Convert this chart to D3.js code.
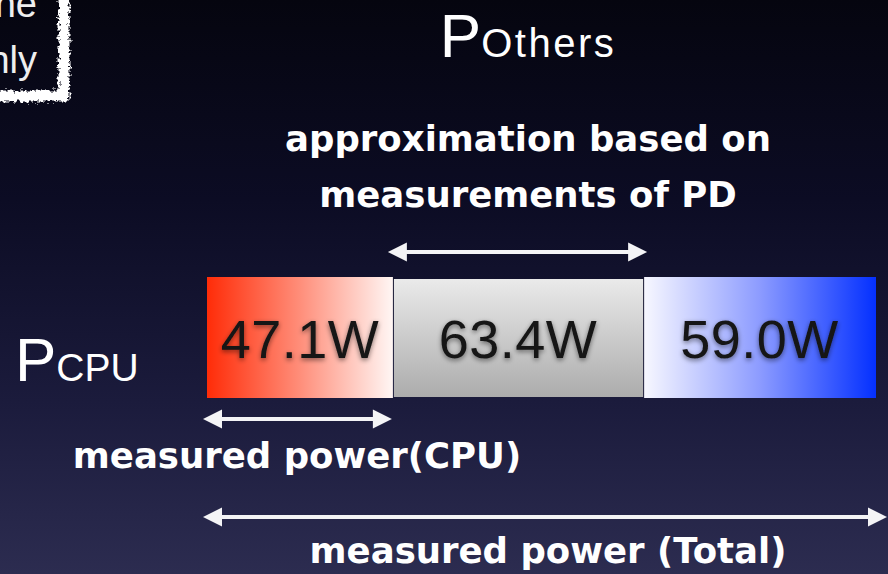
<!DOCTYPE html>
<html>
<head>
<meta charset="utf-8">
<script src="https://cdn.jsdelivr.net/npm/d3@7"></script>
<style>
  html, body { margin: 0; padding: 0; background: #0a0a1c; overflow: hidden; }
  svg { display: block; }
</style>
</head>
<body>
<svg id="chart" width="888" height="574"></svg>
<script>
// Power breakdown: measured CPU power, PD approximation, remainder of the total
const categories = ["CPU", "PD", "Others"];
const values = [47.1, 63.4, 59.0];
const unit = "W";
const segmentLabels = values.map(v => v.toFixed(1) + unit);

const W = 888, H = 574;
const svg = d3.select("#chart");
const defs = svg.append("defs");

// ---- gradients ----
function linearGradient(id, x2, y2, stops) {
  const g = defs.append("linearGradient").attr("id", id)
    .attr("x1", 0).attr("y1", 0).attr("x2", x2).attr("y2", y2);
  stops.forEach(([o, c]) => g.append("stop").attr("offset", o).attr("stop-color", c));
}
linearGradient("bg", 0, 1, [[0, "#05050f"], [0.35, "#0c0c24"], [0.7, "#1b1b3c"], [1, "#2c2c50"]]);
const fills = { CPU: "grad-cpu", PD: "grad-pd", Others: "grad-others" };
linearGradient("grad-cpu", 1, 0, [[0, "#ff2c08"], [0.5, "#ff8e7a"], [1, "#fff6f4"]]);
linearGradient("grad-pd", 0, 1, [[0, "#eaeaea"], [1, "#acacac"]]);
linearGradient("grad-others", 1, 0, [[0, "#f7f7ff"], [0.5, "#8c9bff"], [1, "#0430ff"]]);

// soft dark shadow behind the segment values
const sh = defs.append("filter").attr("id", "shadow")
  .attr("x", "-20%").attr("y", "-30%").attr("width", "140%").attr("height", "160%");
sh.append("feGaussianBlur").attr("in", "SourceAlpha").attr("stdDeviation", 2.5).attr("result", "b");
sh.append("feOffset").attr("in", "b").attr("dx", 0).attr("dy", 2).attr("result", "o");
sh.append("feComponentTransfer").attr("in", "o").attr("result", "s")
  .append("feFuncA").attr("type", "linear").attr("slope", 0.5);
const shm = sh.append("feMerge");
shm.append("feMergeNode").attr("in", "s");
shm.append("feMergeNode").attr("in", "SourceGraphic");

// chalky frame edge
const rough = defs.append("filter").attr("id", "rough")
  .attr("x", "-20%").attr("y", "-20%").attr("width", "140%").attr("height", "140%");
rough.append("feTurbulence").attr("type", "fractalNoise").attr("baseFrequency", 0.3)
  .attr("numOctaves", 3).attr("seed", 5).attr("result", "n");
rough.append("feDisplacementMap").attr("in", "SourceGraphic").attr("in2", "n")
  .attr("scale", 9).attr("xChannelSelector", "R").attr("yChannelSelector", "G");

// ---- background ----
svg.append("rect").attr("width", W).attr("height", H).attr("fill", "url(#bg)");

// note box in the corner
const note = svg.append("g");
note.append("path")
  .attr("d", "M-12,96 L64,96 L64,-12")
  .attr("fill", "none").attr("stroke", "#ffffff").attr("stroke-width", 11)
  .attr("filter", "url(#rough)");
note.selectAll("text").data(["ne", "nly"]).join("text")
  .attr("x", 37).attr("y", (d, i) => 17 + i * 56)
  .attr("text-anchor", "end")
  .attr("font-family", "'Liberation Sans', Arial, sans-serif")
  .attr("font-size", 38).attr("fill", "#eeeeee")
  .text(d => d);

// ---- scales ----
const total = d3.sum(values);
const x = d3.scaleLinear().domain([0, total]).range([207, 876]);
const y = d3.scaleBand().domain(["P"]).range([277, 398]).padding(0);

const starts = [0, ...d3.cumsum(values)];
const segs = categories.map((c, i) => ({
  cat: c, v: values[i], label: segmentLabels[i], x0: starts[i], x1: starts[i + 1]
}));

// ---- stacked bar ----
const bar = svg.append("g");
bar.selectAll("rect").data(segs).join("rect")
  .attr("x", (d, i) => x(d.x0) + (i > 0 ? 1 : 0))
  .attr("width", (d, i) => x(d.x1) - x(d.x0) - (i > 0 ? 1 : 0))
  .attr("y", d => d.cat === "PD" ? y("P") + 2 : y("P"))
  .attr("height", d => d.cat === "PD" ? y.bandwidth() - 3 : y.bandwidth())
  .attr("fill", d => `url(#${fills[d.cat]})`);

bar.selectAll("text").data(segs).join("text")
  .attr("x", d => (x(d.x0) + x(d.x1)) / 2)
  .attr("y", 358)
  .attr("text-anchor", "middle")
  .attr("font-family", "'Liberation Sans', Arial, sans-serif")
  .attr("font-size", 54)
  .attr("letter-spacing", 0.5)
  .attr("fill", "#141414")
  .attr("filter", "url(#shadow)")
  .text(d => d.label);

// ---- double-headed arrows ----
function arrow(xa, xb, yy) {
  const hl = 19, hh = 9.5;
  const g = svg.append("g").attr("fill", "#f4f4f6").attr("stroke", "none");
  g.append("rect").attr("x", xa + hl - 1).attr("y", yy - 2).attr("width", xb - xa - 2 * hl + 2).attr("height", 4);
  g.append("path").attr("d", `M${xa},${yy} L${xa + hl},${yy - hh} L${xa + hl},${yy + hh} Z`);
  g.append("path").attr("d", `M${xb},${yy} L${xb - hl},${yy - hh} L${xb - hl},${yy + hh} Z`);
}
arrow(x(starts[1]) - 5, x(starts[2]) + 4, 252);   // PD span
arrow(x(0) - 4, x(starts[1]) - 1, 419);            // CPU span
arrow(x(0) - 4, x(total) + 11, 517);               // total span

// ---- labels ----
const sans = "'Liberation Sans', Arial, sans-serif";
const bold = "'DejaVu Sans', Verdana, sans-serif";

const pOthers = svg.append("text").attr("x", 528).attr("y", 57)
  .attr("text-anchor", "middle").attr("fill", "#ffffff").attr("font-family", sans);
pOthers.append("tspan").attr("font-size", 62).text("P");
pOthers.append("tspan").attr("font-size", 40).attr("letter-spacing", 2.5).text("Others");

const pCpu = svg.append("text").attr("x", 15).attr("y", 381)
  .attr("fill", "#ffffff").attr("font-family", sans);
pCpu.append("tspan").attr("font-size", 62).text("P");
pCpu.append("tspan").attr("font-size", 39).text("CPU");

const notes = [
  { t: "approximation based on", x: 528, y: 151 },
  { t: "measurements of PD", x: 528, y: 207 },
  { t: "measured power(CPU)", x: 297, y: 468 },
  { t: "measured power (Total)", x: 548, y: 563 }
];
svg.selectAll("text.note").data(notes).join("text").attr("class", "note")
  .attr("x", d => d.x).attr("y", d => d.y)
  .attr("text-anchor", "middle")
  .attr("font-family", bold).attr("font-weight", "bold").attr("font-size", 35.5)
  .attr("fill", "#ffffff")
  .text(d => d.t);
</script>
</body>
</html>
